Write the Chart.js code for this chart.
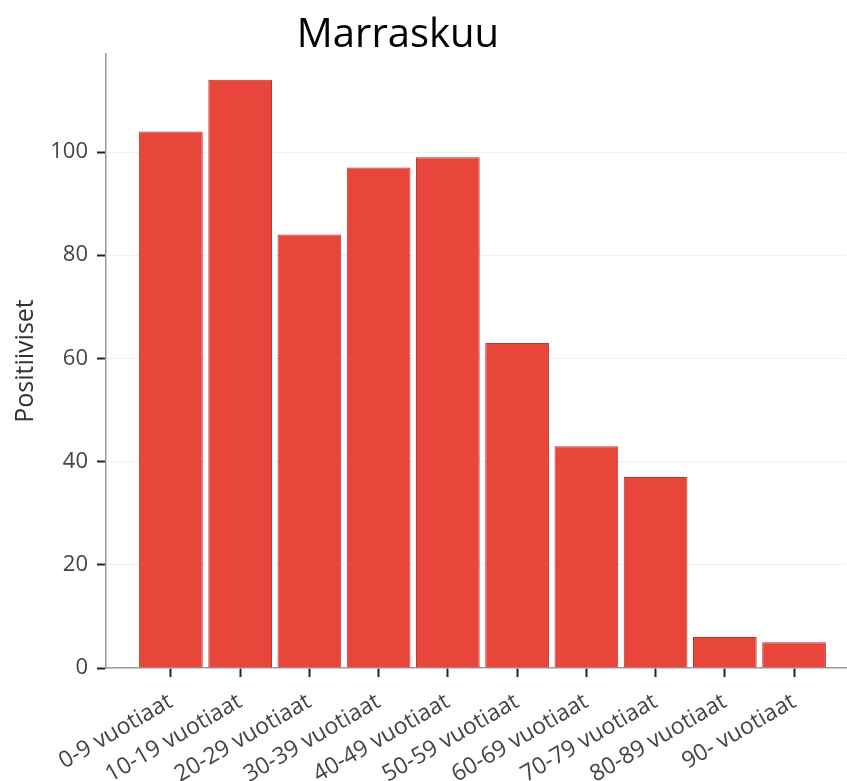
<!DOCTYPE html>
<html>
<head>
<meta charset="utf-8">
<script src="https://cdn.jsdelivr.net/npm/chart.js@4.4.1/dist/chart.umd.min.js"></script>
<style>
  html, body { margin: 0; padding: 0; background: #fff; }
  #wrap { width: 847px; height: 781px; }
</style>
</head>
<body>
<div id="wrap"><canvas id="c" width="847" height="781"></canvas></div>
<script>
const chartTitle = 'Marraskuu';
const yAxisTitle = 'Positiiviset';
const categories = ['0-9 vuotiaat', '10-19 vuotiaat', '20-29 vuotiaat', '30-39 vuotiaat', '40-49 vuotiaat',
                    '50-59 vuotiaat', '60-69 vuotiaat', '70-79 vuotiaat', '80-89 vuotiaat', '90- vuotiaat'];
const positives = [104, 114, 84, 97, 99, 63, 43, 37, 6, 5];
const yTicks = [0, 20, 40, 60, 80, 100];

const FONT = 'Open Sans';

const titlePlugin = {
  id: 'customTitle',
  afterDraw(chart) {
    const ctx = chart.ctx;
    ctx.save();
    ctx.font = '40px "' + FONT + '"';
    ctx.fillStyle = '#000';
    ctx.textAlign = 'center';
    ctx.textBaseline = 'alphabetic';
    ctx.fillText(chartTitle, 398, 47);
    ctx.restore();
  }
};

async function draw() {
  try {
    await Promise.all([
      document.fonts.load('23px "' + FONT + '"'),
      document.fonts.load('40px "' + FONT + '"')
    ]);
  } catch (e) {}

  new Chart(document.getElementById('c'), {
    type: 'bar',
    data: {
      datasets: [{
        data: positives.map((v, i) => ({ x: i, y: v })),
        backgroundColor: 'rgb(232,70,58)',
        borderColor: 'rgb(185,55,45)',
        borderWidth: 1,
        barPercentage: 0.92,
        categoryPercentage: 1
      }]
    },
    options: {
      responsive: false,
      animation: false,
      layout: { padding: { top: 54, right: 1, left: 0, bottom: 0 } },
      plugins: {
        legend: { display: false },
        tooltip: { enabled: false },
        title: { display: false }
      },
      scales: {
        x: {
          type: 'linear',
          min: -0.9375,
          max: 9.75,
          offset: false,
          grid: { offset: false, drawOnChartArea: false, tickLength: 9, tickColor: '#222', tickWidth: 2 },
          border: { color: '#999', width: 1.5 },
          afterBuildTicks: s => { s.ticks = categories.map((_, i) => ({ value: i })); },
          ticks: {
            autoSkip: false,
            minRotation: 30,
            maxRotation: 30,
            padding: 11,
            color: '#444',
            font: { family: FONT, size: 23 },
            callback: v => categories[v]
          },
          afterFit: s => { s.height = 113; }
        },
        y: {
          min: 0,
          max: 119,
          afterBuildTicks: s => { s.ticks = yTicks.map(v => ({ value: v })); },
          ticks: {
            padding: 9,
            color: '#444',
            font: { family: FONT, size: 22 }
          },
          grid: {
            color: c => (c.tick && c.tick.value === 0) ? 'rgba(0,0,0,0)' : '#f0f0f0',
            lineWidth: 1,
            tickLength: 9,
            tickColor: '#222',
            tickWidth: 2
          },
          border: { color: '#999', width: 1.5 },
          title: {
            display: true,
            text: yAxisTitle,
            color: '#333',
            font: { family: FONT, size: 25 },
            padding: { top: 11, bottom: 0 }
          },
          afterFit: s => { s.width = 106; }
        }
      }
    },
    plugins: [titlePlugin]
  });
}
draw();
</script>
</body>
</html>
